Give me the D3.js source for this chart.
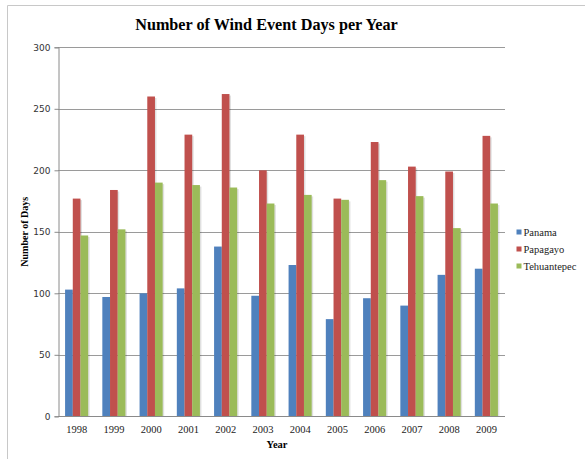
<!DOCTYPE html>
<html>
<head>
<meta charset="utf-8">
<script src="https://cdn.jsdelivr.net/npm/d3@7"></script>
<style>
  html, body { margin: 0; padding: 0; background: #fff; }
  svg { display: block; }
</style>
</head>
<body>
<script>
// Wind event days per year for three gap-wind regions
const years = ["1998","1999","2000","2001","2002","2003","2004","2005","2006","2007","2008","2009"];
const seriesNames = ["Panama", "Papagayo", "Tehuantepec"];
const panama      = [103, 97, 100, 104, 138, 98, 123, 79, 96, 90, 115, 120];
const papagayo    = [177, 184, 260, 229, 262, 200, 229, 177, 223, 203, 199, 228];
const tehuantepec = [147, 152, 190, 188, 186, 173, 180, 176, 192, 179, 153, 173];
const yTicks = [0, 50, 100, 150, 200, 250, 300];
const colors = ["#4F81BD", "#C0504D", "#9BBB59"];

const seriesValues = [panama, papagayo, tehuantepec];
const rows = years.map((yr, i) => ({
  year: yr,
  values: seriesNames.map((s, k) => ({ series: s, value: seriesValues[k][i], color: colors[k] }))
}));

const W = 585, H = 459;
const plot = { left: 58, right: 505, top: 47.3, bottom: 416.3 };
const serif = "'Liberation Serif', 'Times New Roman', serif";

const svg = d3.select("body").append("svg").attr("width", W).attr("height", H);

// Chart area frame
svg.append("path")
  .attr("d", `M7.5,${H} V5.5 H${W}`)
  .attr("fill", "none").attr("stroke", "#c8c8c8").attr("stroke-width", 1);

const x0 = d3.scaleBand().domain(years).range([plot.left, plot.right])
  .paddingInner(0.38).paddingOuter(0.19);
const x1 = d3.scaleBand().domain(seriesNames).range([0, x0.bandwidth()]);
const y = d3.scaleLinear().domain([0, 300]).range([plot.bottom, plot.top]);

// Horizontal gridlines
svg.append("g").selectAll("line").data(yTicks.filter(t => t > 0)).join("line")
  .attr("x1", plot.left).attr("x2", plot.right)
  .attr("y1", d => Math.round(y(d)) + 0.5).attr("y2", d => Math.round(y(d)) + 0.5)
  .attr("stroke", "#9a9a9a").attr("stroke-width", 1);

// Y axis
const yAxis = svg.append("g")
  .attr("transform", `translate(${plot.left + 0.5},0)`)
  .call(d3.axisLeft(y).tickValues(yTicks).tickSize(4).tickPadding(4).tickFormat(d3.format("d")));
yAxis.select(".domain").attr("stroke", "#8a8a8a");
yAxis.selectAll(".tick line").attr("stroke", "#8a8a8a");
yAxis.selectAll(".tick text")
  .attr("font-family", "'DejaVu Sans', sans-serif").attr("font-size", 9).attr("fill", "#333");

// Bars with a soft drop shadow
const groups = svg.append("g").selectAll("g").data(rows).join("g")
  .attr("transform", d => `translate(${x0(d.year)},0)`);

groups.selectAll("rect.shadow").data(d => d.values).join("rect")
  .attr("class", "shadow")
  .attr("x", d => x1(d.series) + 1.5)
  .attr("y", d => y(d.value) + 1.5)
  .attr("width", x1.bandwidth())
  .attr("height", d => plot.bottom - y(d.value) - 1.5)
  .attr("fill", "#000").attr("opacity", 0.12);

groups.selectAll("rect.bar").data(d => d.values).join("rect")
  .attr("class", "bar")
  .attr("x", d => x1(d.series))
  .attr("y", d => y(d.value))
  .attr("width", x1.bandwidth())
  .attr("height", d => plot.bottom - y(d.value))
  .attr("fill", d => d.color);

// X axis
const xAxis = svg.append("g")
  .attr("transform", `translate(0,${Math.round(plot.bottom) + 0.5})`)
  .call(d3.axisBottom(x0).tickSize(0).tickPadding(9));
xAxis.select(".domain").attr("stroke", "#8a8a8a").attr("d", `M${plot.left},0H${plot.right}`);
xAxis.selectAll(".tick text")
  .attr("font-family", serif).attr("font-size", 10.5).attr("fill", "#222");

// Titles
svg.append("text")
  .attr("x", 266.5).attr("y", 30)
  .attr("text-anchor", "middle")
  .attr("font-family", serif).attr("font-weight", "bold")
  .attr("font-size", 16.2).attr("fill", "#000")
  .text("Number of Wind Event Days per Year");

svg.append("text")
  .attr("transform", `translate(28,${(plot.top + plot.bottom) / 2}) rotate(-90)`)
  .attr("text-anchor", "middle")
  .attr("font-family", serif).attr("font-weight", "bold")
  .attr("font-size", 10).attr("fill", "#000")
  .text("Number of Days");

svg.append("text")
  .attr("x", 277).attr("y", 447.5)
  .attr("text-anchor", "middle")
  .attr("font-family", serif).attr("font-weight", "bold")
  .attr("font-size", 10.5).attr("fill", "#000")
  .text("Year");

// Legend
const legend = svg.append("g").attr("transform", "translate(516.5,232)");
const li = legend.selectAll("g").data(seriesNames).join("g")
  .attr("transform", (d, i) => `translate(0,${i * 17})`);
li.append("rect").attr("x", 0).attr("y", -2.5).attr("width", 5).attr("height", 5)
  .attr("fill", (d, i) => colors[i]);
li.append("text").attr("x", 7).attr("y", 3.5)
  .attr("font-family", serif).attr("font-size", 10.5).attr("fill", "#222")
  .text(d => d);
</script>
</body>
</html>
